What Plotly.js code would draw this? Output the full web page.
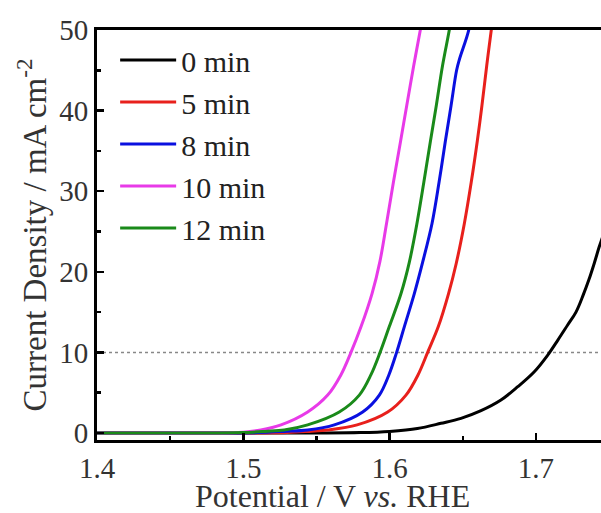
<!DOCTYPE html>
<html>
<head>
<meta charset="utf-8">
<script src="https://cdn.plot.ly/plotly-3.0.1.min.js"></script>
<style>html,body{margin:0;padding:0;background:#fff;}#chart{width:601px;height:513px;}</style>
</head>
<body>
<div id="chart"></div>
<script>
// Series names and colours
const seriesNames = ["0 min", "5 min", "8 min", "10 min", "12 min"];
const seriesColors = ["#000000", "#e8201c", "#0a10e0", "#e83ae8", "#1a8a1a"];

// Potential (V vs. RHE) and current density (mA cm^-2)
const v0 = [1.40, 1.55, 1.58, 1.60, 1.619, 1.6351, 1.6488, 1.6625, 1.6761, 1.6876, 1.6989, 1.7081, 1.7149, 1.7217, 1.7274, 1.7323, 1.7362, 1.7398, 1.7433, 1.7461];
const j0 = [0.0, 0.0, 0.05, 0.2, 0.55, 1.2, 1.82, 2.77, 4.09, 5.74, 7.6, 9.67, 11.5, 13.4, 15.0, 17.1, 19.0, 21.0, 23.1, 24.6];

const v5 = [1.40, 1.50, 1.53, 1.545, 1.5577, 1.5778, 1.5987, 1.6112, 1.6194, 1.626, 1.6333, 1.6403, 1.6455, 1.6511, 1.6558, 1.6600, 1.6631, 1.6664, 1.6695, 1.671];
const j5 = [0.0, 0.0, 0.05, 0.2, 0.37, 1.0, 2.6, 4.7, 7.2, 10.0, 13.2, 17.3, 21.0, 26.0, 31.1, 36.3, 40.6, 45.6, 50.0, 52.0];

const v8 = [1.40, 1.49, 1.51, 1.528, 1.544, 1.5622, 1.5816, 1.593, 1.5995, 1.6048, 1.6101, 1.6169, 1.6226, 1.6290, 1.6338, 1.6381, 1.6420, 1.6458, 1.6478, 1.6541, 1.6555];
const j8 = [0.0, 0.0, 0.05, 0.2, 0.37, 1.0, 2.6, 4.7, 7.2, 10.0, 13.2, 17.3, 21.2, 26.0, 31.1, 36.2, 40.6, 45.0, 46.4, 50.0, 52.0];

const v10 = [1.40, 1.47, 1.50, 1.512, 1.5258, 1.544, 1.5577, 1.5667, 1.5736, 1.5805, 1.5880, 1.5934, 1.5979, 1.6026, 1.6075, 1.6117, 1.6165, 1.621, 1.6228];
const j10 = [0.0, 0.0, 0.1, 0.37, 1.0, 2.6, 4.7, 7.2, 10.0, 13.2, 17.3, 21.3, 26.0, 31.1, 36.2, 40.6, 45.6, 50.0, 52.0];

const v12 = [1.40, 1.48, 1.50, 1.515, 1.528, 1.544, 1.5656, 1.5793, 1.5872, 1.5935, 1.5998, 1.6078, 1.6135, 1.6187, 1.6234, 1.6279, 1.6319, 1.6362, 1.6408, 1.6425];
const j12 = [0.0, 0.0, 0.05, 0.2, 0.37, 1.0, 2.6, 4.7, 7.2, 10.0, 13.2, 17.3, 21.2, 26.0, 31.1, 36.2, 40.6, 45.6, 50.0, 52.0];

// Axis ticks and titles
const xTickVals = [1.4, 1.5, 1.6, 1.7];
const xTickText = ["1.4", "1.5", "1.6", "1.7"];
const yTickVals = [0, 10, 20, 30, 40, 50];
const yTickText = ["0", "10", "20", "30", "40", "50"];
const xTitle = "Potential / V <i>vs.</i> RHE";
const yTitle = "Current Density / mA cm<sup>-2</sup>";
const refLevel = 10;

const xs = [v0, v5, v8, v10, v12];
const ys = [j0, j5, j8, j10, j12];

const traces = seriesNames.map((n, i) => ({
  x: xs[i], y: ys[i], name: n, type: "scatter", mode: "lines",
  line: {color: seriesColors[i], width: 3, shape: "spline", smoothing: 1}
}));

const font = "'Liberation Serif', 'Times New Roman', Times, serif";

const layout = {
  width: 601, height: 513,
  margin: {l: 97, r: 0, t: 30, b: 73},
  paper_bgcolor: "#fff", plot_bgcolor: "#fff",
  font: {family: font, color: "#222", size: 28},
  showlegend: true,
  legend: {x: 0.036, y: 0.99, xanchor: "left", yanchor: "top",
    font: {family: font, size: 30, color: "#222"}, bgcolor: "rgba(0,0,0,0)",
    tracegroupgap: 0, itemwidth: 56},
  xaxis: {
    range: [1.4, 1.7445], showgrid: false, zeroline: false,
    showline: true, linecolor: "#000", linewidth: 3, mirror: true,
    ticks: "inside", ticklen: 7, tickwidth: 2.5, tickcolor: "#000",
    tickvals: xTickVals, ticktext: xTickText,
    minor: {ticks: "inside", ticklen: 4, tickwidth: 2.5, tickcolor: "#000", dtick: 0.05, showgrid: false},
    tickfont: {family: font, size: 29, color: "#333"}
  },
  yaxis: {
    range: [-0.87, 50], showgrid: false, zeroline: false,
    showline: true, linecolor: "#000", linewidth: 3,
    ticks: "inside", ticklen: 7, tickwidth: 2.5, tickcolor: "#000",
    tickvals: yTickVals, ticktext: yTickText,
    minor: {ticks: "inside", ticklen: 4, tickwidth: 2.5, tickcolor: "#000", dtick: 5, showgrid: false},
    tickfont: {family: font, size: 29, color: "#333"},
    title: {text: yTitle, font: {family: font, size: 33, color: "#333"}, standoff: 3}
  },
  annotations: [{text: xTitle, xref: "paper", yref: "paper", x: 0.468, y: 0,
    xanchor: "center", yanchor: "middle", yshift: -56, showarrow: false,
    font: {family: font, size: 32, color: "#333"}}],
  shapes: [{type: "line", xref: "paper", x0: 0, x1: 1, yref: "y", y0: refLevel, y1: refLevel,
    line: {color: "#888", width: 1.5, dash: "dot"}, layer: "below"}]
};

Plotly.newPlot("chart", traces, layout, {displayModeBar: false, staticPlot: true});
</script>
</body>
</html>
